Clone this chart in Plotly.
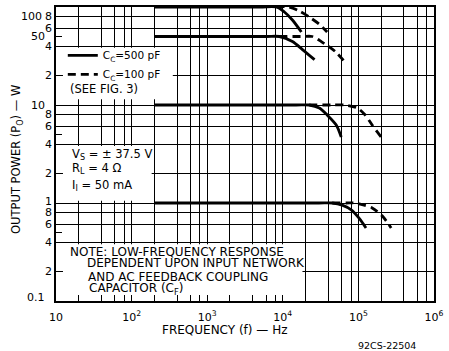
import math
import plotly.graph_objects as go

# ---------------- data ----------------
# Cc = 500 pF (solid)
f_500_100 = [200, 5000, 8240, 10500, 13400, 17600]
p_500_100 = [100, 100, 100, 88.9, 73.7, 55.6]
f_500_50 = [200, 6000, 9000, 13400, 18200, 26300]
p_500_50 = [50, 50, 50, 44.4, 36.8, 29.0]
f_500_10 = [200, 15000, 22400, 30400, 38700, 50900, 59300]
p_500_10 = [10, 10, 10, 9.32, 7.9, 6.25, 4.71]
f_500_1 = [200, 30000, 45100, 61100, 80300, 102000, 126000]
p_500_1 = [1, 1, 1, 0.95, 0.85, 0.70, 0.556]

# Cc = 100 pF (dashed)
f_100_100 = [8240, 12000, 16600, 22400, 30200, 38600]
p_100_100 = [100, 100, 91, 79, 67, 55.6]
f_100_50 = [9000, 18000, 24500, 32300, 49400, 69000]
p_100_50 = [50, 50, 50, 44.4, 35.1, 26.5]
f_100_10 = [22400, 45000, 65000, 96400, 123000, 152000, 200000]
p_100_10 = [10, 10, 10, 9.32, 7.9, 6.25, 4.71]
f_100_1 = [45100, 70000, 88000, 119000, 152000, 206000, 271000]
p_100_1 = [1, 1, 1, 0.95, 0.89, 0.74, 0.556]

series_names = ["C<sub>C</sub>=500 pF", "C<sub>C</sub>=100 pF"]

x_tick_vals = [10, 100, 1000, 10000, 100000, 1000000]
x_tick_text = ["10", "10<sup>2</sup>", "10<sup>3</sup>", "10<sup>4</sup>", "10<sup>5</sup>", "10<sup>6</sup>"]

y_label_vals = [100, 80, 60, 50, 40, 20, 10, 8, 6, 4, 2, 1, 0.8, 0.6, 0.4, 0.2, 0.1]
y_label_text = ["100", "8", "6", "50", "4", "2", "10", "8", "6", "4", "2", "1", "8", "6", "4", "2", "0.1"]

grid_mults = [2, 4, 6, 8]

# ---------------- figure ----------------
FONT = "DejaVu Sans"
fig = go.Figure()

solid = [(f_500_100, p_500_100), (f_500_50, p_500_50), (f_500_10, p_500_10), (f_500_1, p_500_1)]
dashed = [(f_100_100, p_100_100), (f_100_50, p_100_50), (f_100_10, p_100_10), (f_100_1, p_100_1)]

for i, (fx, py) in enumerate(solid):
    fig.add_trace(go.Scatter(x=fx, y=py, mode="lines", name=series_names[0],
                             legendgroup="a", showlegend=(i == 0),
                             line=dict(color="black", width=2.8, shape="spline", smoothing=0.8)))
for i, (fx, py) in enumerate(dashed):
    fig.add_trace(go.Scatter(x=fx, y=py, mode="lines", name=series_names[1],
                             legendgroup="b", showlegend=(i == 0),
                             line=dict(color="black", width=2.8, dash="8px,5px", shape="spline", smoothing=0.8)))

x_minor = [m * 10 ** d for d in range(1, 6) for m in grid_mults]
y_grid = [m * 10 ** d for d in range(-1, 2) for m in [1] + grid_mults] + [100]
y_minor = [m * 10 ** d for d in range(-1, 2) for m in (2, 5)]

fig.update_xaxes(type="log", range=[1, 6], tickmode="array", tickvals=x_tick_vals, ticktext=x_tick_text,
                 showgrid=True, gridcolor="black", gridwidth=1.3, ticks="",
                 showline=True, linecolor="black", linewidth=1.8, mirror=True,
                 ticklabelstandoff=5,
                 tickfont=dict(family=FONT, size=11, color="black"),
                 minor=dict(tickmode="array", tickvals=x_minor, ticks="", showgrid=True,
                            gridcolor="black", gridwidth=1.3),
                 zeroline=False)
fig.update_yaxes(type="log", range=[-1, 2], tickmode="array", tickvals=y_grid,
                 showticklabels=False,
                 showgrid=True, gridcolor="black", gridwidth=1.3, ticks="",
                 showline=True, linecolor="black", linewidth=1.8, mirror=True,
                 minor=dict(tickmode="array", tickvals=y_minor, ticks="inside", ticklen=6,
                            tickcolor="black", tickwidth=1.3, showgrid=False),
                 zeroline=False)

# y tick labels as annotations (datasheet-style placement)
for v, t in zip(y_label_vals, y_label_text):
    xs = -2 if len(t) == 1 else -9
    ys = 0
    if t == "100":
        ys = -9
        xs = -12
    elif t == "1":
        ys = 2
    elif t == "0.1":
        ys = 4
    fig.add_annotation(x=0, xref="paper", y=math.log10(v), yref="y", text=t, showarrow=False,
                       xanchor="right", yanchor="middle", xshift=xs, yshift=ys,
                       font=dict(family=FONT, size=11, color="black"))

# white boxes masking the grid behind the texts (grid stubs stay visible as ticks)
BX0 = 7 / 379
BY0 = 6 / 296
def box(x0, x1, y0, y1):
    fig.add_shape(type="rect", xref="paper", yref="paper", x0=x0, x1=x1, y0=y0, y1=y1,
                  fillcolor="white", line=dict(width=0), layer="above")

box(BX0, 0.309, 0.686, 0.861)   # legend box
box(BX0, 0.253, 0.341, 0.527)   # conditions box
box(BX0, 0.652, BY0, 0.193)     # note box

def txt(x, y, s, size=12, **kw):
    fig.add_annotation(x=x, y=y, xref="paper", yref="paper", text=s, showarrow=False,
                       font=dict(family=FONT, size=size, color="black"), **kw)

txt(0.032, 0.72, "(SEE FIG. 3)", size=11.5, xanchor="left", yanchor="middle")
txt(0.037, 0.50, "V<sub>S</sub> = ± 37.5 V", size=11.5, xanchor="left", yanchor="middle")
txt(0.037, 0.449, "R<sub>L</sub> = 4 Ω", size=11.5, xanchor="left", yanchor="middle")
txt(0.037, 0.392, "I<sub>I</sub> = 50 mA", size=11.5, xanchor="left", yanchor="middle")

txt(0.032, 0.166, "NOTE: LOW-FREQUENCY RESPONSE", xanchor="left", yanchor="middle")
txt(0.077, 0.128, "DEPENDENT UPON INPUT NETWORK", xanchor="left", yanchor="middle")
txt(0.079, 0.083, "AND AC FEEDBACK COUPLING", xanchor="left", yanchor="middle")
txt(0.081, 0.042, "CAPACITOR (C<sub>F</sub>)", xanchor="left", yanchor="middle")

txt(-0.103, 0.48, "OUTPUT POWER (P<sub>O</sub>) — W", size=11.5, textangle=-90, xanchor="center", yanchor="middle")
txt(0.446, -0.098, "FREQUENCY (f) — Hz", xanchor="center", yanchor="middle")
txt(0.876, -0.152, "92CS-22504", size=9.5, xanchor="center", yanchor="middle")

fig.update_layout(
    width=449, height=351,
    margin=dict(l=56, r=14, t=5, b=50),
    paper_bgcolor="white", plot_bgcolor="white",
    showlegend=True,
    legend=dict(x=0.018, y=0.885, xanchor="left", yanchor="top",
                bgcolor="rgba(0,0,0,0)", borderwidth=0, tracegroupgap=0,
                font=dict(family=FONT, size=10.5, color="black"),
                itemwidth=30),
)

fig.write_html("out.html", config={"displayModeBar": False},
               post_script="document.body.style.margin='0';")
